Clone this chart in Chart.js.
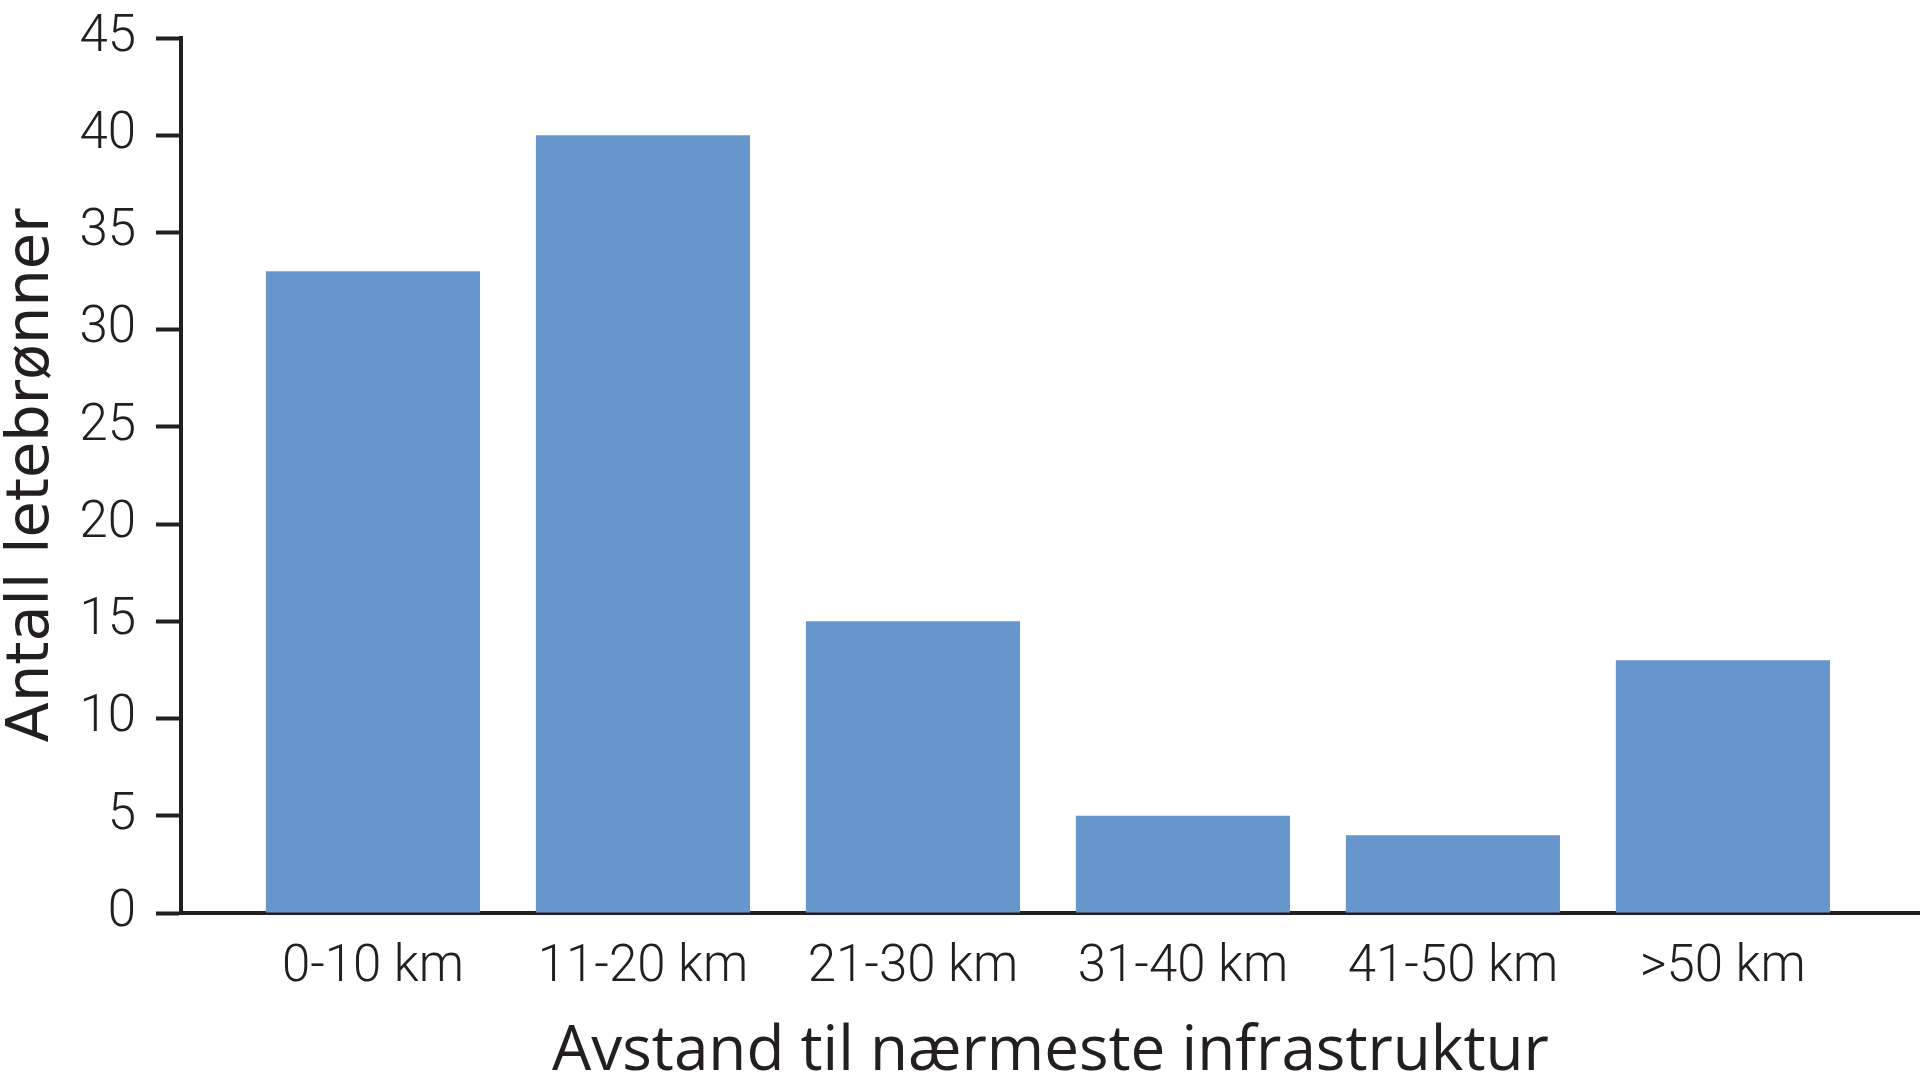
<!DOCTYPE html>
<html>
<head>
<meta charset="utf-8">
<script src="https://cdn.jsdelivr.net/npm/chart.js@4.4.1/dist/chart.umd.min.js"></script>
<style>
  html, body { margin: 0; padding: 0; background: #fff; }
  #wrap { width: 1920px; height: 1090px; }
</style>
</head>
<body>
<div id="wrap"><canvas id="myChart"></canvas></div>
<script>
// Data
const categories = ['0-10 km', '11-20 km', '21-30 km', '31-40 km', '41-50 km', '>50 km'];
const wells = [33, 40, 15, 5, 4, 13];
const yTicks = [0, 5, 10, 15, 20, 25, 30, 35, 40, 45];

const ink = '#231f20';

// pick the narrowest installed face for the tick labels (reference uses a condensed light face)
const probe = document.createElement('canvas').getContext('2d');
const candidates = [
    { weight: '300 extra-condensed', family: '"Noto Sans"' },
    { weight: '300 condensed', family: '"Noto Sans"' },
    { weight: 'normal', family: '"Liberation Sans Narrow"' },
    { weight: 'normal condensed', family: '"DejaVu Sans"' },
    { weight: 'normal', family: '"DejaVu Sans Condensed"' },
    { weight: '300', family: 'Roboto' }
];
function shape(c) {
    probe.font = c.weight + ' 100px ' + c.family;
    const w = probe.measureText('11-20 km').width;
    const h = probe.measureText('0').actualBoundingBoxAscent;
    return { ratio: w / h, h: h / 100 };
}
let tickFace = candidates[candidates.length - 1];
let best = Infinity;
candidates.forEach(c => {
    const s = shape(c);
    const d = Math.abs(s.ratio - 4.12);
    if (d < best) { best = d; tickFace = Object.assign({}, c, { digit: s.h }); }
});
// a wider face is set a little smaller so the labels keep roughly their width
const tickFont = {
    family: tickFace.family,
    weight: tickFace.weight,
    size: Math.round((best > 0.4 ? 37 : 41) / tickFace.digit)
};

const canvas = document.getElementById('myChart');

const myChart = new Chart(canvas, {
    type: 'bar',
    data: {
        datasets: [{
            label: 'Antall letebrønner',
            data: wells.map((v, i) => ({ x: i, y: v })),
            backgroundColor: '#6696cc',
            borderWidth: 0,
            categoryPercentage: 1,
            barPercentage: 0.793
        }]
    },
    options: {
        responsive: true,
        maintainAspectRatio: false,
        devicePixelRatio: 1,
        animation: false,
        layout: { padding: { top: 38, right: 0, bottom: 0, left: 0 } },
        plugins: {
            legend: { display: false },
            tooltip: { enabled: false }
        },
        scales: {
            x: {
                type: 'linear',
                offset: false,
                min: -0.711,
                max: 5.73,
                afterBuildTicks: axis => {
                    axis.ticks = categories.map((c, i) => ({ value: i }));
                },
                afterFit: scale => {
                    scale.height = 177;
                    scale.paddingLeft = 0;
                    scale.paddingRight = 0;
                },
                grid: { display: false, drawTicks: false },
                border: { display: true, color: ink, width: 4 },
                ticks: {
                    autoSkip: false,
                    maxRotation: 0,
                    padding: 25,
                    color: ink,
                    font: tickFont,
                    callback: value => categories[value]
                },
                title: {
                    display: true,
                    text: 'Avstand til nærmeste infrastruktur',
                    color: ink,
                    padding: { top: 0, bottom: 0 },
                    font: { family: '"Open Sans", "Noto Sans", sans-serif', size: 62, lineHeight: 1.2 }
                }
            },
            y: {
                min: 0,
                max: 45,
                afterBuildTicks: axis => {
                    axis.ticks = yTicks.map(v => ({ value: v }));
                },
                afterFit: scale => {
                    scale.width = 181;
                    scale.paddingTop = 0;
                    scale.paddingBottom = 0;
                },
                grid: {
                    drawOnChartArea: false,
                    drawTicks: true,
                    tickLength: 25,
                    tickWidth: 4,
                    tickColor: ink
                },
                border: { display: true, color: ink, width: 4 },
                ticks: {
                    padding: 20,
                    color: ink,
                    font: tickFont
                },
                title: {
                    display: true,
                    text: 'Antall letebrønner',
                    color: ink,
                    padding: { top: 0, bottom: 0 },
                    font: { family: '"DejaVu Sans", sans-serif', size: 59, lineHeight: 1.1 }
                }
            }
        }
    }
});
</script>
</body>
</html>
